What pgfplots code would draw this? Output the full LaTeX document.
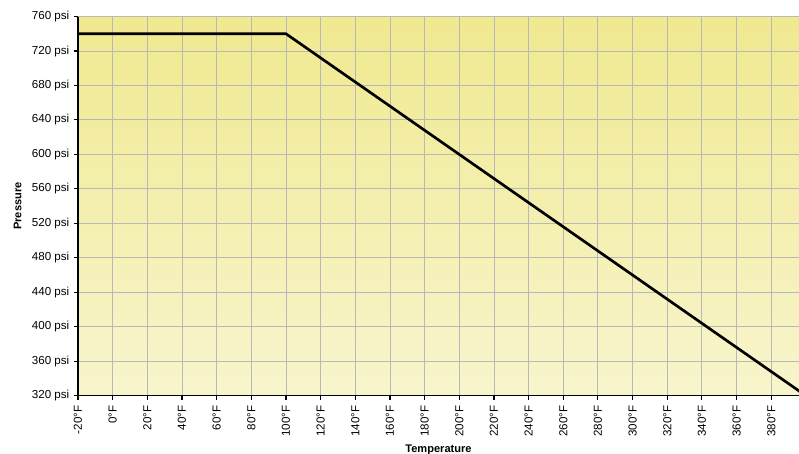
\documentclass[border=0pt]{standalone}
\usepackage{pgfplots}
\pgfplotsset{compat=1.18}
\usepackage{fontspec}
\setmainfont{Liberation Sans}
\definecolor{topc}{HTML}{F0E990}
\definecolor{botc}{HTML}{F8F5CD}
\definecolor{gridc}{HTML}{B8B8B8}
\begin{document}
\begin{tikzpicture}
\begin{axis}[
  scale only axis,
  width=540.75pt, height=284.4pt,
  at={(0,0)}, anchor=south west,
  xmin=-20, xmax=396,
  ymin=320, ymax=760,
  xtick={-20,0,...,380},
  ytick={320,360,...,760},
  axis background/.style={top color=topc, bottom color=botc},
  grid=major,
  major grid style={gridc, line width=0.7pt},
  axis x line*=bottom,
  axis y line*=left,
  axis line style={black, line width=0.8pt},
  tick align=outside,
  major tick length=3pt,
  tick style={black, line width=0.8pt},
  /pgf/number format/assume math mode=true,
  /pgf/number format/1000 sep={},
  xticklabel={\pgfmathprintnumber{\tick}°F},
  yticklabel={\pgfmathprintnumber{\tick} psi},
  x tick label style={rotate=90, anchor=east, font=\fontsize{8.7pt}{9pt}\selectfont, xshift=-1pt},
  y tick label style={font=\fontsize{8.7pt}{9pt}\selectfont},
  xlabel={\textbf{Temperature}},
  ylabel={\textbf{Pressure}},
  xlabel style={font=\fontsize{8.3pt}{9pt}\selectfont, yshift=1pt},
  ylabel style={font=\fontsize{8.3pt}{9pt}\selectfont, yshift=1pt},
  clip=true,
]
\addplot[black, line width=2pt] coordinates {(-20,740) (100,740) (400,320)};
\end{axis}
\pgfresetboundingbox
\path (-58.5pt,-43pt) rectangle (540.75pt,296.8pt);
\end{tikzpicture}
\end{document}
